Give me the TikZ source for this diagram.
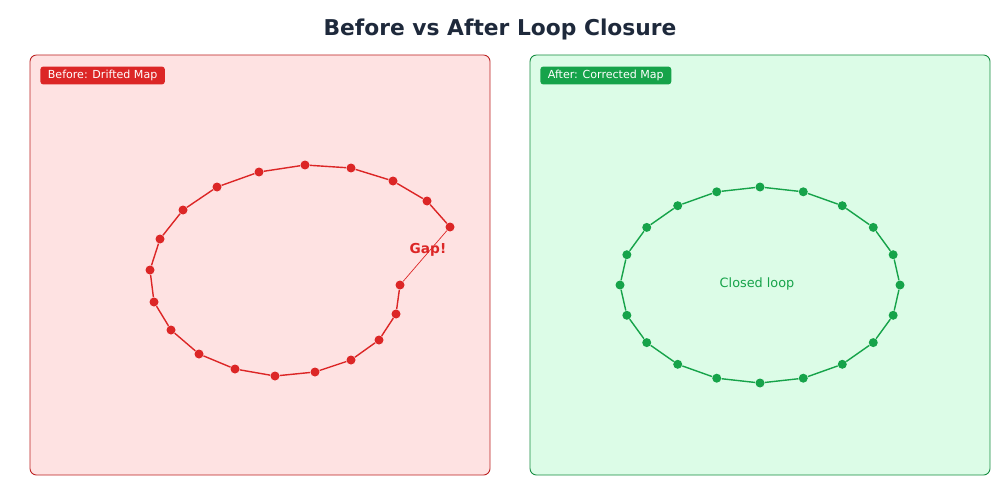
\documentclass[tikz,border=0pt]{standalone}
\usepackage{fontspec}
\setmainfont{DejaVu Sans}
\usetikzlibrary{positioning}
\definecolor{drift}{HTML}{DC2626}
\definecolor{driftbg}{HTML}{FEE2E2}
\definecolor{fixed}{HTML}{16A34A}
\definecolor{fixedbg}{HTML}{DCFCE7}
\definecolor{titleink}{HTML}{1E293B}
\tikzset{pose/.style={%
        circle,
        minimum size=0.18cm,inner sep=0pt,
        anchor=center,
        fill}}
\tikzset{odom/.style={line width=0.8pt,line join=round}}
\tikzset{panel/.style={rounded corners=0.13cm,line width=0.5pt}}
\tikzset{badge/.style={%
        rounded corners=0.06cm,
        anchor=west,
        minimum height=0.36cm,inner xsep=0.15cm,inner ysep=0pt,
        text=white,font=\fontsize{6.3}{7}\selectfont}}

\begin{document}
\begin{tikzpicture}[x=0.02cm,y=-0.02cm]
  \useasboundingbox (0,0) rectangle (1000,500);
  \node [text=titleink,font=\fontsize{12.4}{14}\selectfont\bfseries] (title) at (500,29.5) {Before vs After Loop Closure};
  % panels
  \draw [panel,draw=drift!85!black,fill=driftbg] (30,55) rectangle (490,475);
  \draw [panel,draw=fixed!85!black,fill=fixedbg] (530,55) rectangle (990,475);
  \node [badge,fill=drift] (before) at (40,75.5) {Before: Drifted Map};
  \node [badge,fill=fixed] (after) at (540,75.5) {After: Corrected Map};
  % drifted trajectory
  \node [pose,drift] (r1) at (450,227) {};
  \node [pose,drift] (r2) at (427,201) {};
  \node [pose,drift] (r3) at (393,181) {};
  \node [pose,drift] (r4) at (351,168) {};
  \node [pose,drift] (r5) at (305,165) {};
  \node [pose,drift] (r6) at (259,172) {};
  \node [pose,drift] (r7) at (217,187) {};
  \node [pose,drift] (r8) at (183,210) {};
  \node [pose,drift] (r9) at (160,239) {};
  \node [pose,drift] (r10) at (150,270) {};
  \node [pose,drift] (r11) at (154,302) {};
  \node [pose,drift] (r12) at (171,330) {};
  \node [pose,drift] (r13) at (199,354) {};
  \node [pose,drift] (r14) at (235,369) {};
  \node [pose,drift] (r15) at (275,376) {};
  \node [pose,drift] (r16) at (315,372) {};
  \node [pose,drift] (r17) at (351,360) {};
  \node [pose,drift] (r18) at (379,340) {};
  \node [pose,drift] (r19) at (396,314) {};
  \node [pose,drift] (r20) at (400,285) {};
  \foreach \i [evaluate=\i as \j using {int(\i+1)}] in {1,...,19}
    \draw [odom,drift] (r\i) -- (r\j);
  \draw [drift,line width=0.4pt] (r20) -- (r1);
  \node [text=drift,font=\fontsize{7.8}{9}\selectfont\bfseries] (gap) at (428,250) {Gap!};
  % corrected trajectory
  \foreach \i in {1,...,20}
    \node [pose,fixed] (g\i) at ({760+140*cos(18*(\i-1))},{285+98*sin(18*(\i-1))}) {};
  \foreach \i [evaluate=\i as \j using {int(mod(\i,20)+1)}] in {1,...,20}
    \draw [odom,fixed] (g\i) -- (g\j);
  \node [text=fixed,font=\fontsize{7.3}{9}\selectfont] (closed) at (757,284) {Closed loop};
\end{tikzpicture}
\end{document}
